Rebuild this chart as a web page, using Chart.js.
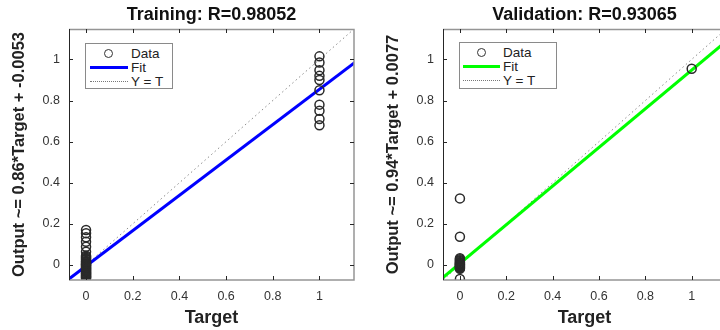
<!DOCTYPE html>
<html>
<head>
<meta charset="utf-8">
<script src="https://cdn.jsdelivr.net/npm/chart.js@4.4.1/dist/chart.umd.min.js"></script>
<style>
  body {
    margin: 0;
    width: 720px;
    height: 330px;
    overflow: hidden;
    position: relative;
    background: #fff;
    font-family: "Liberation Sans", Arial, sans-serif;
  }
  canvas { position: absolute; top: 0; }
  #trainCanvas { left: 0; }
  #valCanvas { left: 360px; }
  .legend {
    position: absolute;
    background: #fff;
    border: 1px solid #8a8a8a;
    box-sizing: border-box;
    padding-top: 2px;
    font-size: 13.5px;
    color: #222;
  }
  .legend .row { display: flex; align-items: center; height: 14px; white-space: nowrap; }
  .legend .sample { display: flex; justify-content: center; align-items: center; flex: none; }
  .legend .circle { width: 7px; height: 7px; border: 1.3px solid #333; border-radius: 50%; }
</style>
</head>
<body>
<canvas id="trainCanvas" width="360" height="330"></canvas>
<canvas id="valCanvas" width="372" height="330"></canvas>

<script>
// Axis limits and ticks (same for both panels)
const axisMin = -0.073;
const axisMax = 1.148;
const tickValues = [0, 0.2, 0.4, 0.6, 0.8, 1];

// Training outputs, grouped by target value
const trainAtZero = [0.17, 0.155, 0.135, 0.113, 0.089, 0.065, 0.045, 0.04, 0.035, 0.03,
  0.025, 0.02, 0.016, 0.012, 0.008, 0.005, 0.002, 0, -0.003, -0.006, -0.01, -0.013,
  -0.016, -0.02, -0.023, -0.026, -0.03, -0.033, -0.036, -0.04, -0.043, -0.046, -0.05,
  -0.053, -0.056, -0.06, -0.063];
const trainAtOne = [1.015, 0.985, 0.947, 0.92, 0.9, 0.85, 0.78, 0.75, 0.71, 0.68];

// Validation outputs, grouped by target value
const valAtZero = [0.324, 0.137, 0.033, 0.028, 0.023, 0.019, 0.015, 0.011, 0.008, 0.005,
  0.002, 0, -0.003, -0.006, -0.009, -0.012, -0.015, -0.018, -0.068];
const valAtOne = [0.955];

// Fit and Y = T line end points
const lineX = [-0.1, 1.2];
const trainFitY = [-0.0913, 1.0267];
const valFitY = [-0.0863, 1.1357];
const identityY = [-0.1, 1.2];

const FONT = '"Liberation Sans", Arial, sans-serif';

const toPoints = (target, outputs) => outputs.map((v) => ({ x: target, y: v }));
const toLine = (xs, ys) => xs.map((x, i) => ({ x, y: ys[i] }));

// Box around the axes with inward ticks
const framePlugin = {
  id: 'frame',
  afterDraw(chart) {
    const { ctx, chartArea: a, scales: { x, y } } = chart;
    ctx.save();
    ctx.lineWidth = 1.5;
    ctx.strokeStyle = '#959595';
    ctx.beginPath();
    ctx.moveTo(a.left, a.top + 0.5);
    ctx.lineTo(a.right, a.top + 0.5);
    ctx.lineTo(a.right, a.bottom);
    ctx.lineTo(a.left, a.bottom);
    ctx.stroke();

    ctx.lineWidth = 1;
    ctx.strokeStyle = '#262626';
    ctx.beginPath();
    ctx.moveTo(a.left + 0.5, a.top);
    ctx.lineTo(a.left + 0.5, a.bottom);
    tickValues.forEach((v) => {
      const px = Math.round(x.getPixelForValue(v)) + 0.5;
      ctx.moveTo(px, a.bottom);
      ctx.lineTo(px, a.bottom - 4);
      ctx.moveTo(px, a.top);
      ctx.lineTo(px, a.top + 4);
      const py = Math.round(y.getPixelForValue(v)) + 0.5;
      ctx.moveTo(a.left, py);
      ctx.lineTo(a.left + 4, py);
      ctx.moveTo(a.right, py);
      ctx.lineTo(a.right - 4, py);
    });
    ctx.stroke();
    ctx.restore();
  },
};

function makeChart(canvas, cfg) {
  const fixedTicks = (scale) => {
    scale.ticks = tickValues.map((value) => ({ value }));
  };

  return new Chart(canvas, {
    type: 'scatter',
    data: {
      datasets: [
        {
          label: 'Data',
          data: [...toPoints(0, cfg.atZero), ...toPoints(1, cfg.atOne)],
          pointStyle: 'circle',
          pointRadius: 4.5,
          backgroundColor: 'rgba(0,0,0,0)',
          borderColor: '#2a2a2a',
          borderWidth: 1.5,
        },
        {
          label: 'Fit',
          type: 'line',
          data: toLine(lineX, cfg.fitY),
          borderColor: cfg.fitColor,
          borderWidth: 3,
          pointRadius: 0,
        },
        {
          label: 'Y = T',
          type: 'line',
          data: toLine(lineX, identityY),
          borderColor: '#8a8a8a',
          borderWidth: 1,
          borderDash: [1.5, 3],
          pointRadius: 0,
        },
      ],
    },
    options: {
      responsive: false,
      animation: false,
      devicePixelRatio: 1,
      layout: { padding: { left: 0, right: cfg.rightPad, top: 0, bottom: 0 } },
      plugins: { legend: { display: false }, tooltip: { enabled: false } },
      scales: {
        x: {
          type: 'linear',
          min: axisMin,
          max: axisMax,
          afterBuildTicks: fixedTicks,
          afterFit: (scale) => { scale.height = 50; },
          grid: { display: false, drawTicks: false },
          border: { display: false },
          ticks: {
            padding: 9,
            color: '#333',
            font: { family: FONT, size: 12.5 },
            callback: (v) => String(v),
          },
          title: {
            display: true,
            text: 'Target',
            color: '#222',
            font: { family: FONT, size: 18, weight: 'bold' },
            padding: { top: 0, bottom: 1 },
          },
        },
        xTop: {
          type: 'linear',
          position: 'top',
          min: axisMin,
          max: axisMax,
          afterFit: (scale) => { scale.height = 29; },
          grid: { display: false, drawTicks: false },
          border: { display: false },
          ticks: { display: false },
          title: {
            display: true,
            text: cfg.title,
            color: '#111',
            font: { family: FONT, size: 18, weight: 'bold' },
            padding: { top: 4, bottom: 0 },
          },
        },
        y: {
          type: 'linear',
          min: axisMin,
          max: axisMax,
          afterBuildTicks: fixedTicks,
          afterFit: (scale) => { scale.width = cfg.yWidth; },
          grid: { display: false, drawTicks: false },
          border: { display: false },
          ticks: {
            padding: 9,
            color: '#333',
            font: { family: FONT, size: 12.5 },
            callback: (v) => String(v),
          },
          title: {
            display: true,
            text: cfg.yTitle,
            color: '#222',
            font: { family: FONT, size: 16.5, weight: 'bold' },
            padding: { top: cfg.yTitlePad, bottom: 0 },
          },
        },
      },
    },
    plugins: [framePlugin],
  });
}

// HTML legend box inside the axes
function addLegend(box) {
  const el = document.createElement('div');
  el.className = 'legend';
  Object.assign(el.style, {
    left: box.left + 'px',
    top: box.top + 'px',
    width: box.width + 'px',
    height: box.height + 'px',
  });
  const rows = [
    { text: 'Data', sample: '<span class="circle"></span>' },
    { text: 'Fit', sample: `<span style="width:${box.lineLen}px;border-top:3px solid ${box.color}"></span>` },
    { text: 'Y = T', sample: `<span style="width:${box.lineLen}px;border-top:1px dotted #777"></span>` },
  ];
  el.innerHTML = rows
    .map((r) => `<div class="row"><span class="sample" style="width:${box.sampleW}px">${r.sample}</span><span>${r.text}</span></div>`)
    .join('');
  document.body.appendChild(el);
}

makeChart(document.getElementById('trainCanvas'), {
  title: 'Training: R=0.98052',
  yTitle: 'Output ~= 0.86*Target + -0.0053',
  atZero: trainAtZero,
  atOne: trainAtOne,
  fitY: trainFitY,
  fitColor: '#0000ff',
  yWidth: 69,
  yTitlePad: 10,
  rightPad: 6,
});

makeChart(document.getElementById('valCanvas'), {
  title: 'Validation: R=0.93065',
  yTitle: 'Output ~= 0.94*Target + 0.0077',
  atZero: valAtZero,
  atOne: valAtOne,
  fitY: valFitY,
  fitColor: '#00ff00',
  yWidth: 83,
  yTitlePad: 24,
  rightPad: 3,
});

addLegend({ left: 85, top: 43, width: 88, height: 46, sampleW: 45, lineLen: 38, color: '#0000ff' });
addLegend({ left: 459, top: 42, width: 98, height: 47, sampleW: 43, lineLen: 37, color: '#00ff00' });
</script>
</body>
</html>
